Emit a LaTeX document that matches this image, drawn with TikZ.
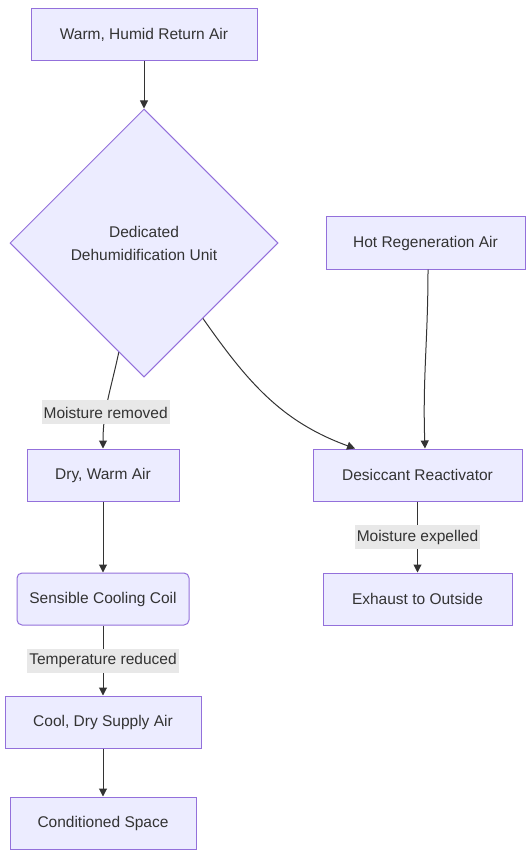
\documentclass[tikz,border=0pt]{standalone}
\usepackage{fontspec}
\setmainfont{Liberation Sans}
\usetikzlibrary{shapes.geometric,arrows.meta}
\definecolor{nodefill}{HTML}{ECECFF}
\definecolor{nodeline}{HTML}{9370DB}
\definecolor{ink}{HTML}{333333}
\definecolor{labelfill}{HTML}{E8E8E8}
\begin{document}
\begin{tikzpicture}[->, >={Triangle[length=8pt,width=8pt]}, line width=1pt,
        box node/.style={rectangle, draw=nodeline, fill=nodefill, line width=1pt, minimum height=52pt, inner sep=0pt},
        decision node/.style={diamond, aspect=1, draw=nodeline, fill=nodefill, line width=1pt, minimum width=268pt, minimum height=268pt, inner sep=0pt, align=center},
        label node/.style={fill=labelfill, inner sep=2pt, minimum height=24pt, text=ink}]
        \tikzstyle{every node}=[font=\fontsize{15.5}{23}\selectfont, text=ink]
        \useasboundingbox (0,0) rectangle (525pt,-850pt);

          \node[box node, minimum width=226pt] (1) at (144pt,-34.5pt) {Warm, Humid Return Air};
          \node[decision node] (2) [below of=1, node distance=208.5pt] {Dedicated\\Dehumidification Unit};
          \node[box node, minimum width=199pt] (3) [right of=2, node distance=281.5pt] {Hot Regeneration Air};
          \node[box node, minimum width=152pt] (4) [below of=2, node distance=232pt, xshift=-41pt] {Dry, Warm Air};
          \node[box node, minimum width=209pt] (5) [below of=3, node distance=232pt, xshift=-8pt] {Desiccant Reactivator};
          \node[box node, rounded corners=5pt, minimum width=172pt] (6) [below of=4, node distance=124pt] {Sensible Cooling Coil};
          \node[box node, minimum width=189pt] (7) [below of=5, node distance=124pt] {Exhaust to Outside};
          \node[box node, minimum width=196pt] (8) [below of=6, node distance=123pt] {Cool, Dry Supply Air};
          \node[box node, minimum width=186pt] (9) [below of=8, node distance=101pt] {Conditioned Space};

          \path[color=ink, every node/.style={label node, font=\fontsize{15.5}{23}\selectfont}]
            (1) edge (2)
            (2.-103) edge[out=-102, in=90] node [pos=0.64] {Moisture removed} (4.north)
            (2.-52) edge[out=-55, in=160] (5.157)
            ([xshift=2.5pt]3.south) edge[out=-90, in=92] ([xshift=7.5pt]5.north)
            (5) edge node {Moisture expelled} (7)
            (4) edge (6)
            (6) edge node {Temperature reduced} (8)
            (8) edge (9);

        \end{tikzpicture}
\end{document}
